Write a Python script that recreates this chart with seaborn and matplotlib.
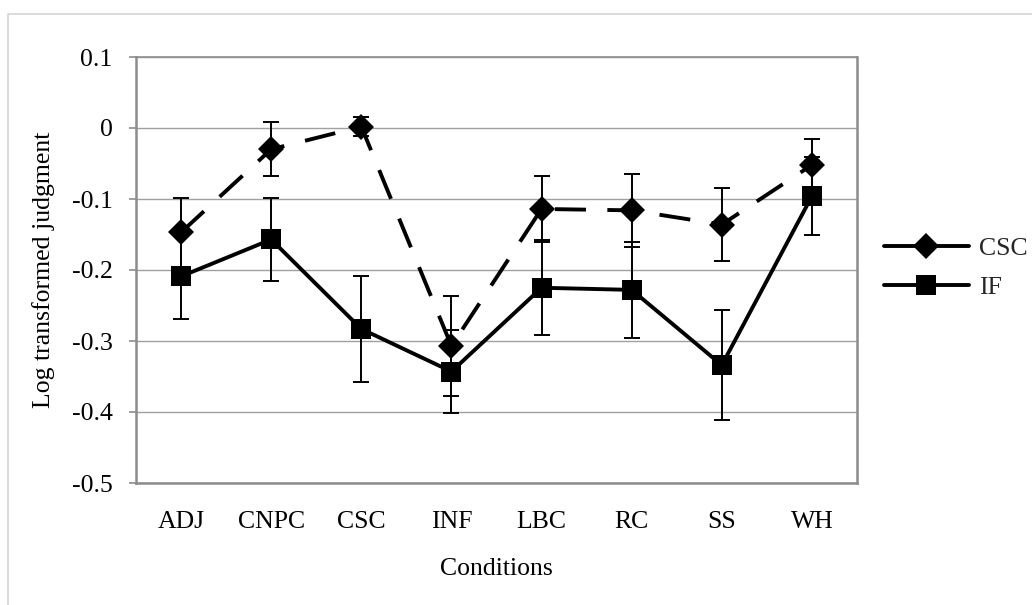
import matplotlib
matplotlib.use("Agg")
import matplotlib.pyplot as plt
import seaborn as sns
import pandas as pd
import numpy as np
from matplotlib.lines import Line2D

conditions = ["ADJ", "CNPC", "CSC", "INF", "LBC", "RC", "SS", "WH"]
csc_mean = [-0.147, -0.030, 0.002, -0.307, -0.114, -0.116, -0.136, -0.052]
csc_err = [0.049, 0.038, 0.013, 0.071, 0.047, 0.051, 0.052, 0.037]
if_mean = [-0.209, -0.157, -0.283, -0.343, -0.225, -0.228, -0.334, -0.096]
if_err = [0.060, 0.058, 0.075, 0.058, 0.067, 0.068, 0.077, 0.055]
yticks = [0.1, 0, -0.1, -0.2, -0.3, -0.4, -0.5]
ytick_labels = ["0.1", "0", "-0.1", "-0.2", "-0.3", "-0.4", "-0.5"]

sns.set_theme(style="white")
plt.rcParams['font.family'] = ['Liberation Serif', 'DejaVu Serif']
plt.rcParams['axes.unicode_minus'] = False

FS = 18.5
D_SIZE = 13.5
S_SIZE = 14.2

df = pd.DataFrame({
    "Conditions": conditions * 2,
    "value": csc_mean + if_mean,
    "series": ["CSC"] * len(conditions) + ["IF"] * len(conditions),
})

fig = plt.figure(figsize=(10.32, 6.05), dpi=100)
ax = fig.add_axes([136/1032, 1 - 483/605, (857-136)/1032, (483-57)/605])

x = np.arange(len(conditions))

# error bars
ax.errorbar(x, csc_mean, yerr=csc_err, fmt='none', ecolor='black',
            elinewidth=1.4, capsize=5.5, capthick=1.4, zorder=3)
ax.errorbar(x, if_mean, yerr=if_err, fmt='none', ecolor='black',
            elinewidth=1.4, capsize=5.5, capthick=1.4, zorder=3)

sns.lineplot(data=df[df.series == "CSC"], x="Conditions", y="value", ax=ax,
             color="black", linewidth=2.8, marker="D", markersize=D_SIZE,
             markeredgewidth=0, dashes=False, legend=False, zorder=4,
             sort=False)
ax.lines[-1].set_dashes([8, 5.5])
sns.lineplot(data=df[df.series == "IF"], x="Conditions", y="value", ax=ax,
             color="black", linewidth=2.8, marker="s", markersize=S_SIZE,
             markeredgewidth=0, legend=False, zorder=5, sort=False)

ax.set_xlim(-0.5, len(conditions) - 0.5)
ax.set_ylim(-0.5, 0.1)
ax.set_yticks(yticks)
ax.set_yticklabels(ytick_labels)
ax.yaxis.grid(True, color="#a0a0a0", linewidth=1.0)
ax.set_axisbelow(True)

for side in ["left", "bottom", "right", "top"]:
    ax.spines[side].set_visible(True)
    ax.spines[side].set_color("#8c8c8c")
    ax.spines[side].set_linewidth(1.8)
ax.spines["top"].set_linewidth(1.2)

ax.tick_params(axis='y', left=True, length=5, width=1.2, color="#8c8c8c",
               pad=12, labelsize=FS, labelcolor="black")
ax.tick_params(axis='x', length=0, pad=20, labelsize=FS, labelcolor="black")

ax.set_xlabel("Conditions", fontsize=FS, labelpad=18, color="black")
ax.set_ylabel("Log transformed judgment", fontsize=FS, labelpad=12, color="black")

handles = [
    Line2D([], [], color="black", linewidth=2.8, marker="D", markersize=D_SIZE, markeredgewidth=0),
    Line2D([], [], color="black", linewidth=2.8, marker="s", markersize=S_SIZE, markeredgewidth=0),
]
leg = fig.legend(handles, ["CSC", "IF"], loc="center left",
                 bbox_to_anchor=(884/1032, 1 - 268/605), frameon=False,
                 fontsize=FS, handlelength=3.3, handletextpad=0.4,
                 labelspacing=0.6, borderpad=0, borderaxespad=0)

# outer light frame
fig.add_artist(Line2D([8/1032, 8/1032, 1.0], [0.0, 1 - 14/605, 1 - 14/605],
                      transform=fig.transFigure, color="#d4d4d4", linewidth=1.2))

fig.savefig("out.png", dpi=100)
